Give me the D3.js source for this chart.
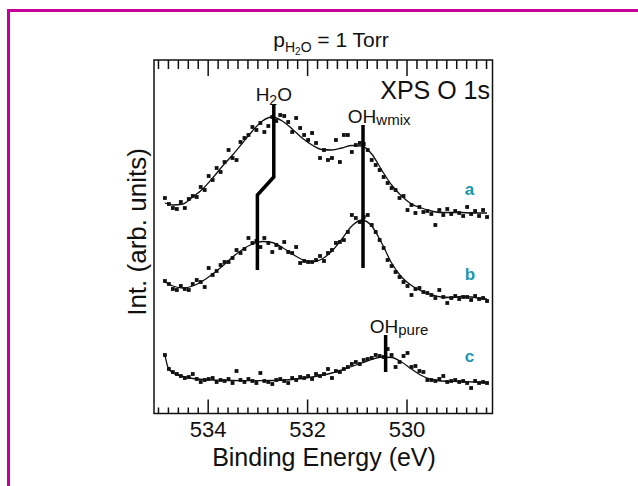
<!DOCTYPE html>
<html><head><meta charset="utf-8">
<script src="https://cdn.jsdelivr.net/npm/d3@7"></script>
<style>
html,body{margin:0;padding:0;background:#fff;}
svg text{font-family:"Liberation Sans",Arial,Helvetica,sans-serif;}
</style></head>
<body><svg id="c" width="638" height="486"></svg>
<script>
// Binding energy grid of measured points (eV)
const energies = [534.86,534.78,534.70,534.62,534.54,534.46,534.38,534.30,534.22,534.14,534.06,533.98,533.90,533.82,533.74,533.66,533.58,533.50,533.42,533.34,533.26,533.18,533.10,533.02,532.94,532.86,532.78,532.70,532.62,532.54,532.46,532.38,532.30,532.22,532.14,532.06,531.98,531.90,531.82,531.74,531.66,531.58,531.50,531.42,531.34,531.26,531.18,531.10,531.02,530.94,530.86,530.78,530.70,530.62,530.54,530.46,530.38,530.30,530.22,530.14,530.06,529.98,529.90,529.82,529.74,529.66,529.58,529.50,529.42,529.34,529.26,529.18,529.10,529.02,528.94,528.86,528.78,528.70,528.62,528.54,528.46,528.38];
// Measured intensities (arb. units, spectra offset)
const intA = [215,209,205,204,211,205,214,217,216,226,223,237,233,245,241,251,263,255,253,271,275,278,286,283,290,281,287,296,292,298,297,291,281,295,285,278,273,280,270,255,263,253,255,273,251,278,278,261,268,270,269,263,253,248,243,236,230,225,223,215,217,203,208,200,206,201,202,199,188,203,198,204,199,202,200,197,206,199,202,197,203,196];
const intB = [132,129,124,123,127,124,123,129,133,131,126,145,138,142,148,151,151,155,163,160,164,175,170,172,166,175,170,161,168,165,171,161,160,166,150,152,151,151,153,157,152,160,163,170,171,173,181,198,195,191,196,198,188,181,173,165,153,147,141,136,131,127,118,124,125,121,120,118,115,123,116,110,115,117,114,116,116,113,117,114,115,112];
const intC = [58,44,41,39,37,35,36,39,34,31,33,34,35,31,33,32,34,30,42,33,31,34,32,30,40,32,31,29,33,34,32,30,35,33,36,35,37,34,39,37,39,44,35,42,41,44,46,49,51,49,53,54,55,58,57,56,64,58,46,51,57,60,46,47,42,41,33,33,32,34,37,31,32,33,31,32,30,25,32,30,31,30];
// Fitted envelopes
const fitE = [534.86,534.7,534.5,534.3,534.1,533.9,533.7,533.5,533.3,533.1,532.9,532.7,532.5,532.3,532.1,531.9,531.7,531.5,531.3,531.1,530.9,530.7,530.5,530.3,530.1,529.9,529.7,529.5,529.3,529.1,528.9,528.7,528.5,528.38];
const fitA = [210,208,209,216,224,235,247,258,270,282,292,296,292,284,275,268,263.5,263,265,267.5,267,259,243,228,217,209,205,202,200.5,200.5,200.5,200,200,200];
const fitB = [131,127,125,127,132,139,147,156,163.5,169,171.5,170.5,165.5,159,153.5,151,154,162,174,187,193,187,170,150,136,127.5,122,118.5,116,115.5,116.5,116,114.5,114];
const fitEC = [534.86,534.8,534.7,534.5,534.3,534.1,533.9,533.5,533.1,532.7,532.3,531.9,531.5,531.1,530.9,530.7,530.5,530.3,530.1,529.9,529.7,529.5,529.3,528.9,528.38];
const fitC = [58,46,40,36.5,34.5,33.5,33,32.5,32.3,32.5,33.5,36,40,46.5,50,53.5,56,55.5,51,44,37.5,33.5,32,31.5,30.5];
// Peak markers
const markH2O_E = [532.67,532.67,533.0,533.0], markH2O_V = [309,236,218,143];
const markWmix_E = [530.875,530.875], markWmix_V = [288,145];
const markPure_E = [530.42,530.42], markPure_V = [78,41];
const majorTicks = [534,532,530];
const seriesLabels = ["a","b","c"];

const svg = d3.select("#c");
const L=154, R=492.5, T=60, B=413.5;
const x = d3.scaleLinear().domain([535.08,528.27]).range([L,R]);
const y = d3.scaleLinear().domain([0,353]).range([413,60]);

// magenta frame
svg.append("line").attr("x1",7).attr("x2",638).attr("y1",10.5).attr("y2",10.5).attr("stroke","#c8009a").attr("stroke-width",3);
svg.append("line").attr("x1",8.5).attr("x2",8.5).attr("y1",9).attr("y2",486).attr("stroke","#c8009a").attr("stroke-width",3);

const minor = d3.range(0,34).map(i=>+(535-0.2*i).toFixed(1)).filter(v=>!majorTicks.includes(v));

// axes
const gB = svg.append("g").attr("transform",`translate(0,${B})`);
gB.call(d3.axisBottom(x).tickValues(minor).tickSize(-6).tickFormat(""));
gB.call(g=>g.select(".domain").remove());
const gB2 = svg.append("g").attr("transform",`translate(0,${B})`);
gB2.call(d3.axisBottom(x).tickValues(majorTicks).tickSize(-14).tickPadding(8).tickFormat(d3.format("d")));
gB2.select(".domain").remove();
gB2.selectAll("text").attr("font-size",22).attr("fill","#111").attr("font-family","Liberation Sans, Arial, sans-serif");
const gT = svg.append("g").attr("transform",`translate(0,${T})`);
gT.call(d3.axisTop(x).tickValues(minor).tickSize(-9).tickFormat(""));
gT.select(".domain").remove();
const gT2 = svg.append("g").attr("transform",`translate(0,${T})`);
gT2.call(d3.axisTop(x).tickValues(majorTicks).tickSize(-16).tickFormat(""));
gT2.select(".domain").remove();
svg.selectAll(".tick line").attr("stroke","#111").attr("stroke-width",1.5);

svg.append("rect").attr("x",L).attr("y",T).attr("width",R-L).attr("height",B-T)
  .attr("fill","none").attr("stroke","#111").attr("stroke-width",1.5);

// series
const line = d3.line().curve(d3.curveMonotoneX);
function drawFit(E,V){
  svg.append("path").attr("d",line(E.map((e,i)=>[x(e),y(V[i])])))
    .attr("fill","none").attr("stroke","#111").attr("stroke-width",1.3);
}
function drawPts(V){
  svg.append("g").selectAll("rect").data(V).join("rect")
    .attr("x",(d,i)=>x(energies[i])-1.9).attr("y",d=>y(d)-1.9)
    .attr("width",3.8).attr("height",3.8).attr("fill","#111");
}
drawFit(fitE,fitA); drawFit(fitE,fitB); drawFit(fitEC,fitC);
drawPts(intA); drawPts(intB); drawPts(intC);

const mline = d3.line();
[[markH2O_E,markH2O_V],[markWmix_E,markWmix_V],[markPure_E,markPure_V]].forEach(([E,V])=>{
  svg.append("path").attr("d",mline(E.map((e,i)=>[x(e),y(V[i])])))
    .attr("fill","none").attr("stroke","#000").attr("stroke-width",3.5).attr("stroke-linejoin","miter");
});

// texts
const title = svg.append("text").attr("x",331).attr("y",47).attr("text-anchor","middle").attr("font-size",21).attr("fill","#111");
title.append("tspan").text("p");
title.append("tspan").attr("font-size",14).attr("dy",5).text("H");
title.append("tspan").attr("font-size",10).attr("dy",3).text("2");
title.append("tspan").attr("font-size",14).attr("dy",-3).text("O");
title.append("tspan").attr("dy",-5).text(" = 1 Torr");

svg.append("text").attr("x",490).attr("y",99).attr("text-anchor","end").attr("font-size",25).attr("fill","#111").text("XPS O 1s");

const h2o = svg.append("text").attr("x",x(532.67)).attr("y",101).attr("text-anchor","middle").attr("font-size",19).attr("fill","#111");
h2o.append("tspan").text("H");
h2o.append("tspan").attr("font-size",14).attr("dy",4).text("2");
h2o.append("tspan").attr("dy",-4).text("O");

const wm = svg.append("text").attr("x",x(531.18)).attr("y",y(290)).attr("font-size",19).attr("fill","#111");
wm.append("tspan").text("OH");
wm.append("tspan").attr("font-size",15).attr("dy",2).text("wmix");

const pu = svg.append("text").attr("x",x(530.74)).attr("y",y(80)).attr("font-size",19).attr("fill","#111");
pu.append("tspan").text("OH");
pu.append("tspan").attr("font-size",15).attr("dy",2).text("pure");

const labV = [218,133,51];
seriesLabels.forEach((s,i)=>{
  svg.append("text").attr("x",x(528.83)).attr("y",y(labV[i])).attr("font-size",17).attr("font-weight","bold")
    .attr("fill","#1b98ad").text(s);
});

svg.append("text").attr("x",324).attr("y",466).attr("text-anchor","middle").attr("font-size",25).attr("fill","#111").text("Binding Energy (eV)");
svg.append("text").attr("transform","translate(146,232) rotate(-90)").attr("text-anchor","middle").attr("font-size",26).attr("fill","#111").text("Int. (arb. units)");
</script></body></html>
